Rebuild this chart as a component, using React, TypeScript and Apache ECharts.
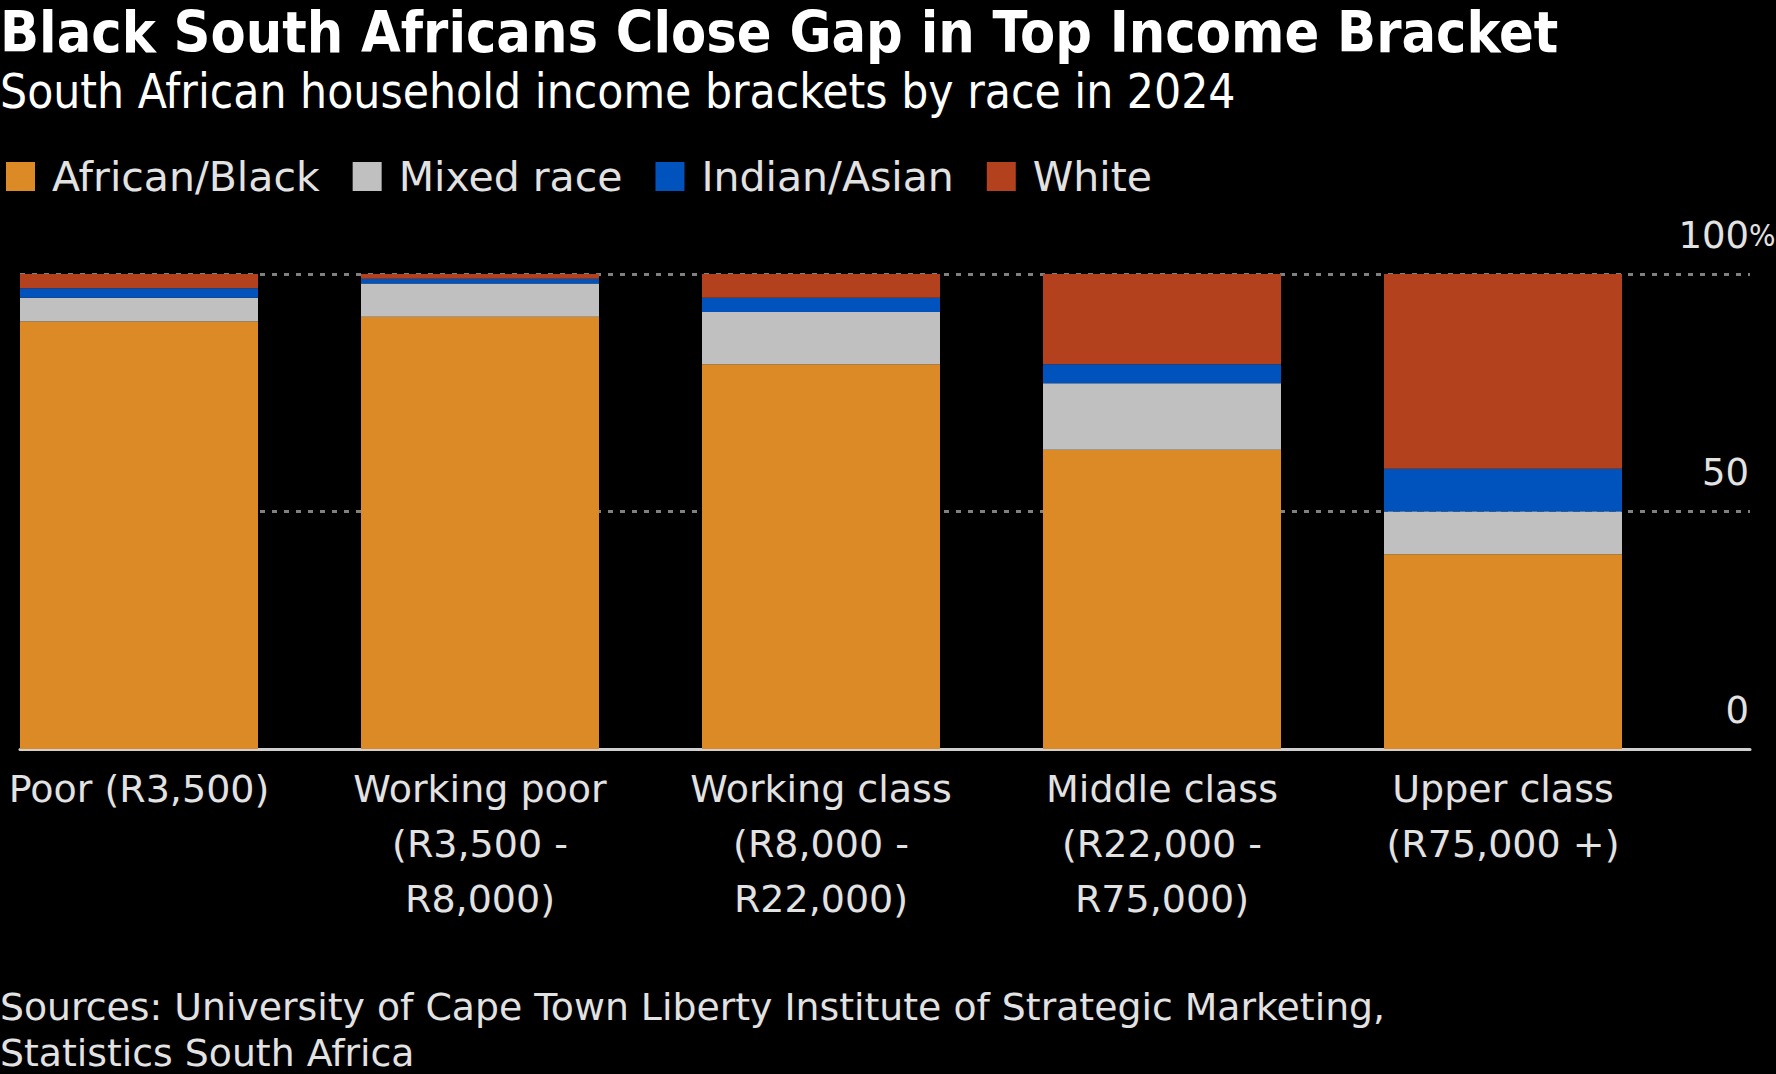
import React, { useEffect, useRef } from 'react';
import * as echarts from 'echarts';

const FONT_C = '"DejaVu Sans Condensed", "DejaVu Sans", sans-serif';
const FONT = '"DejaVu Sans", sans-serif';

const categories = [
  'Poor (R3,500)',
  'Working poor\n(R3,500 -\nR8,000)',
  'Working class\n(R8,000 -\nR22,000)',
  'Middle class\n(R22,000 -\nR75,000)',
  'Upper class\n(R75,000 +)',
];
const seriesNames = ['African/Black', 'Mixed race', 'Indian/Asian', 'White'];
const africanBlack = [90, 91, 81, 63, 41];
const mixedRace = [5, 7, 11, 14, 9];
const indianAsian = [2, 1, 3, 4, 9];
const white = [3, 1, 5, 19, 41];
const seriesColors = ['#DC8A26', '#C0C0C0', '#0052BD', '#B3411E'];
const yTickMax = 100;
const yTickStep = 50;

const TITLE = 'Black South Africans Close Gap in Top Income Bracket';
const SUBTITLE = 'South African household income brackets by race in 2024';
const SOURCE = 'Sources: University of Cape Town Liberty Institute of Strategic Marketing,\nStatistics South Africa';

const TEXT = '#e2e2e2';

export default function App() {
  const ref = useRef<HTMLDivElement>(null);
  useEffect(() => {
    if (!ref.current) return;
    const chart = echarts.init(ref.current, null, { renderer: 'svg' });
    const values = [africanBlack, mixedRace, indianAsian, white];
    const option: any = {
      animation: false,
      backgroundColor: '#000',
      textStyle: { fontFamily: FONT },
      title: [
        {
          text: TITLE, left: 0, top: 2, padding: 0,
          textStyle: { color: '#ffffff', fontSize: 57, fontWeight: 'bold', fontFamily: FONT_C, lineHeight: 60 },
        },
        {
          text: SUBTITLE, left: 0, top: 66, padding: 0,
          textStyle: { color: '#ffffff', fontSize: 47.5, fontWeight: 'normal', fontFamily: FONT_C, lineHeight: 50 },
        },
        {
          text: SOURCE, left: 0, top: 984, padding: 0,
          textStyle: { color: TEXT, fontSize: 37.8, fontWeight: 'normal', fontFamily: FONT, lineHeight: 46 },
        },
      ],
      legend: {
        left: 6, top: 156, padding: 0, itemWidth: 29, itemHeight: 29, itemGap: 33, icon: 'rect',
        data: seriesNames,
        textStyle: { color: TEXT, fontSize: 41, fontFamily: FONT, padding: [0, 0, 0, 12] },
      },
      grid: [
        { left: -31.5, right: 102.5, top: 274, bottom: 325, outerBoundsMode: 'none', containLabel: false },
        { left: 20, right: 26, top: 274, bottom: 325, outerBoundsMode: 'none', containLabel: false },
      ],
      xAxis: [
        {
          type: 'category', gridIndex: 0, data: categories,
          axisLine: { show: false }, axisTick: { show: false },
          axisLabel: { color: TEXT, fontSize: 38, lineHeight: 55, margin: 12, interval: 0, fontFamily: FONT },
        },
        {
          type: 'value', gridIndex: 1, min: 0, max: 1,
          axisLine: { show: true, lineStyle: { color: '#cfcfcf', width: 3 } },
          axisTick: { show: false }, axisLabel: { show: false }, splitLine: { show: false },
        },
      ],
      yAxis: [
        { type: 'value', gridIndex: 0, min: 0, max: yTickMax, show: false },
        {
          type: 'value', gridIndex: 1, min: 0, max: yTickMax, interval: yTickStep, position: 'right',
          axisLine: { show: false }, axisTick: { show: false },
          splitLine: { show: true, showMinLine: false, lineStyle: { color: '#808080', type: [5, 7], width: 3 } },
          axisLabel: {
            inside: true, margin: 1, verticalAlign: 'bottom', fontSize: 37, lineHeight: 78, color: TEXT,
            formatter: (v: number) => (v === yTickMax ? '{n|' + v + '}{p|%}' : '{n|' + v + '}'),
            rich: {
              n: { fontSize: 37, lineHeight: 78, color: TEXT, fontFamily: FONT, align: 'left' },
              p: { fontSize: 31, lineHeight: 78, color: TEXT, fontFamily: FONT_C, width: 0, align: 'left' },
            },
          },
        },
      ],
      series: seriesNames.map((name, i) => ({
        name, type: 'bar', stack: 'total', xAxisIndex: 0, yAxisIndex: 0,
        barWidth: 238, data: values[i], itemStyle: { color: seriesColors[i] },
      })),
    };
    chart.setOption(option);
    return () => chart.dispose();
  }, []);
  return (
    <div
      ref={ref}
      style={{ position: 'fixed', left: 0, top: 0, width: 1776, height: 1074, background: '#000' }}
    />
  );
}
